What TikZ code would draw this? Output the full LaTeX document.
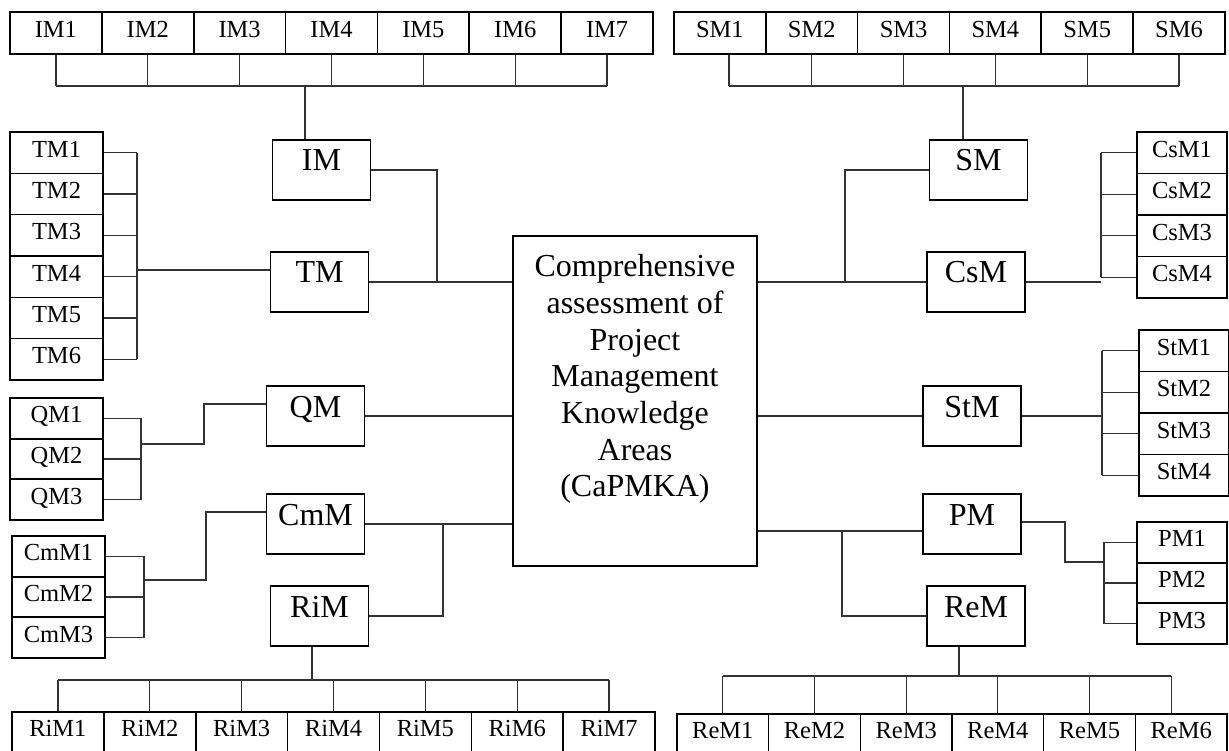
\documentclass[tikz,border=0pt]{standalone}
\usepackage{fontspec}
\setmainfont{Liberation Serif}
\begin{document}
\begin{tikzpicture}[x=1pt,y=-1pt,
  cell/.style={draw, line width=1.6pt, inner xsep=0pt, inner ysep=9.4pt,
    text height=15.6pt, text depth=6.6pt, minimum height=41pt,
    font=\fontsize{24.5}{28}\selectfont},
  toprow/.style={cell, minimum width=91.9pt, inner ysep=10.4pt, text depth=5.6pt, minimum height=42pt},
  botrow/.style={cell, minimum width=91.8pt, inner ysep=8.4pt, text depth=11.6pt, minimum height=44pt},
  lstack/.style={cell, minimum width=93pt},
  rstack/.style={cell, minimum width=90pt},
  box/.style={draw, line width=1.8pt, inner xsep=0pt, inner ysep=10.3pt, minimum width=98pt,
    text height=20.7pt, text depth=18.7pt, minimum height=60pt,
    font=\fontsize{32}{36.7}\selectfont},
  mainbox/.style={draw, line width=1.4pt, minimum width=244pt, minimum height=330pt, inner sep=0pt},
  maintext/.style={align=center, inner sep=0pt, font=\fontsize{32}{36.7}\selectfont},
  wire/.style={line width=1.3pt, draw=black!80}
]
\useasboundingbox (0,0) rectangle (1229,751);
\fill[white] (0,0) rectangle (1229,751);

% ---------- main box ----------
\node[mainbox] (C) at (635,401) {};
\node[maintext, anchor=north] (Ct) at ([yshift=-19pt]C.north)
  {Comprehensive\\assessment of\\Project\\Management\\Knowledge\\Areas\\(CaPMKA)};

% ---------- second level boxes ----------
\node[box] (IM)  at (321.5,170) {IM};
\node[box] (TM)  at (319.5,282) {TM};
\node[box] (QM)  at (315.5,416) {QM};
\node[box] (CmM) at (315.5,524) {CmM};
\node[box] (RiM) at (319.5,616) {RiM};
\node[box] (SM)  at (978.5,170) {SM};
\node[box] (CsM) at (976,282)   {CsM};
\node[box] (StM) at (972,416)   {StM};
\node[box] (PM)  at (972,524)   {PM};
\node[box] (ReM) at (976,616)   {ReM};

% ---------- top rows ----------
\foreach \k/\x in {1/55.9,2/147.8,3/239.6,4/331.5,5/423.4,6/515.2,7/607.1}
  \node[toprow] (IM\k) at (\x,33) {IM\k};
\foreach \k/\x in {1/719.9,2/811.7,3/903.6,4/995.4,5/1087.2,6/1179.0}
  \node[toprow] (SM\k) at (\x,33) {SM\k};

% ---------- left stacks ----------
\foreach \k/\y in {1/152.7,2/194.0,3/235.3,4/276.7,5/318.0,6/359.3}
  \node[lstack, minimum height=41.3pt] (TM\k) at (56.5,\y) {TM\k};
\foreach \k/\y in {1/418.3,2/459.0,3/499.7}
  \node[lstack] (QM\k) at (56.5,\y) {QM\k};
\foreach \k/\y in {1/556.3,2/597.0,3/637.7}
  \node[lstack] (CmM\k) at (58.5,\y) {CmM\k};

% ---------- right stacks ----------
\foreach \k/\y in {1/152.75,2/194.25,3/235.75,4/277.25}
  \node[rstack, minimum height=41.5pt] (CsM\k) at (1182,\y) {CsM\k};
\foreach \k/\y in {1/350.75,2/392.25,3/433.75,4/475.25}
  \node[rstack, minimum height=41.5pt] (StM\k) at (1184,\y) {StM\k};
\foreach \k/\y in {1/542.3,2/583.0,3/623.7}
  \node[rstack] (PM\k) at (1182,\y) {PM\k};

% ---------- bottom rows ----------
\foreach \k/\x in {1/57.9,2/149.8,3/241.6,4/333.5,5/425.4,6/517.2,7/609.1}
  \node[botrow] (RiM\k) at (\x,734) {RiM\k};
\foreach \k/\x in {1/722.8,2/814.5,3/906.2,4/997.8,5/1089.5,6/1181.2}
  \node[botrow, minimum width=91.7pt] (ReM\k) at (\x,736) {ReM\k};

% ---------- IM tree ----------
\coordinate (imbar) at (0,86);
\coordinate (imj) at (305,86);
\draw[wire] (IM1.south |- imbar) -- (IM7.south |- imbar);
\foreach \k in {1,...,7} \draw[wire] (IM\k.south) -- (IM\k.south |- imbar);
\draw[wire] (imj) -- (imj |- IM.north);

% ---------- SM tree ----------
\coordinate (smbar) at (0,86);
\coordinate (smj) at (963,86);
\draw[wire] ([xshift=9pt]SM1.south |- smbar) -- (SM6.south |- smbar);
\draw[wire] ([xshift=9pt]SM1.south) -- ([xshift=9pt]SM1.south |- smbar);
\foreach \k in {2,...,6} \draw[wire] (SM\k.south) -- (SM\k.south |- smbar);
\draw[wire] (smj) -- (smj |- SM.north);

% ---------- left side to centre ----------
\coordinate (imr) at (437,170);
\draw[wire] (IM.east) -- (imr) -- (imr |- TM.east);
\draw[wire] (TM.east) -- (C.west |- TM.east);
\draw[wire] (QM.east) -- (C.west |- QM.east);
\draw[wire] (CmM.east) -- (C.west |- CmM.east);
\coordinate (cmr) at (443,0);
\draw[wire] (RiM.east) -- (RiM.east -| cmr) -- (CmM.east -| cmr);

% ---------- TM stack ----------
\coordinate (tmbar) at (137,0);
\draw[wire] ([yshift=12pt]TM.west) -- ([yshift=12pt]TM.west -| tmbar);
\draw[wire] (TM1.east -| tmbar) -- (TM6.east -| tmbar);
\foreach \k in {1,...,6} \draw[wire] (TM\k.east) -- (TM\k.east -| tmbar);

% ---------- QM stack ----------
\coordinate (qmbar) at (141,0);
\coordinate (qmj) at (204,444);
\draw[wire] ([yshift=12pt]QM.west) -| (qmj) -- (qmj -| qmbar);
\draw[wire] (QM1.east -| qmbar) -- (QM3.east -| qmbar);
\foreach \k in {1,2,3} \draw[wire] (QM\k.east) -- (QM\k.east -| qmbar);

% ---------- CmM stack ----------
\coordinate (cmbar) at (144,0);
\coordinate (cmj) at (206,580);
\draw[wire] ([yshift=12pt]CmM.west) -| (cmj) -- (cmj -| cmbar);
\draw[wire] (CmM1.east -| cmbar) -- (CmM3.east -| cmbar);
\foreach \k in {1,2,3} \draw[wire] (CmM\k.east) -- (CmM\k.east -| cmbar);

% ---------- RiM tree ----------
\coordinate (rimbar) at (0,680);
\coordinate (rimj) at (312,680);
\draw[wire] (rimj) -- (rimj |- RiM.south);
\draw[wire] (RiM1.north |- rimbar) -- (RiM7.north |- rimbar);
\foreach \k in {1,...,7} \draw[wire] (RiM\k.north) -- (RiM\k.north |- rimbar);

% ---------- right side from centre ----------
\coordinate (smk) at (845,0);
\draw[wire] (C.east |- CsM.west) -- (CsM.west);
\draw[wire] (CsM.west -| smk) -- (SM.west -| smk) -- (SM.west);
\draw[wire] (C.east |- StM.west) -- (StM.west);
\coordinate (pmj) at (842,531);
\draw[wire] (C.east |- pmj) -- (pmj) -- (pmj -| PM.west);
\draw[wire] (pmj) |- (ReM.west);

% ---------- CsM stack ----------
\coordinate (csbar) at (1101,0);
\draw[wire] (CsM.east) -- (CsM.east -| csbar);
\draw[wire] (CsM1.west -| csbar) -- (CsM4.west -| csbar);
\foreach \k in {1,...,4} \draw[wire] (CsM\k.west -| csbar) -- (CsM\k.west);

% ---------- StM stack ----------
\coordinate (stbar) at (1102,0);
\draw[wire] (StM.east) -- (StM.east -| stbar);
\draw[wire] (StM1.west -| stbar) -- (StM4.west -| stbar);
\foreach \k in {1,...,4} \draw[wire] (StM\k.west -| stbar) -- (StM\k.west);

% ---------- PM stack ----------
\coordinate (pmbar) at (1104,0);
\coordinate (pmk) at (1065,562);
\draw[wire] ([yshift=2pt]PM.east) -| (pmk) -- (pmk -| pmbar);
\draw[wire] (PM1.west -| pmbar) -- (PM3.west -| pmbar);
\foreach \k in {1,2,3} \draw[wire] (PM\k.west -| pmbar) -- (PM\k.west);

% ---------- ReM tree ----------
\coordinate (rembar) at (0,676);
\coordinate (remj) at (959,676);
\draw[wire] (remj) -- (remj |- ReM.south);
\draw[wire] (ReM1.north |- rembar) -- ([xshift=-10pt]ReM6.north |- rembar);
\foreach \k in {1,...,5} \draw[wire] (ReM\k.north) -- (ReM\k.north |- rembar);
\draw[wire] ([xshift=-10pt]ReM6.north) -- ([xshift=-10pt]ReM6.north |- rembar);
\end{tikzpicture}
\end{document}
